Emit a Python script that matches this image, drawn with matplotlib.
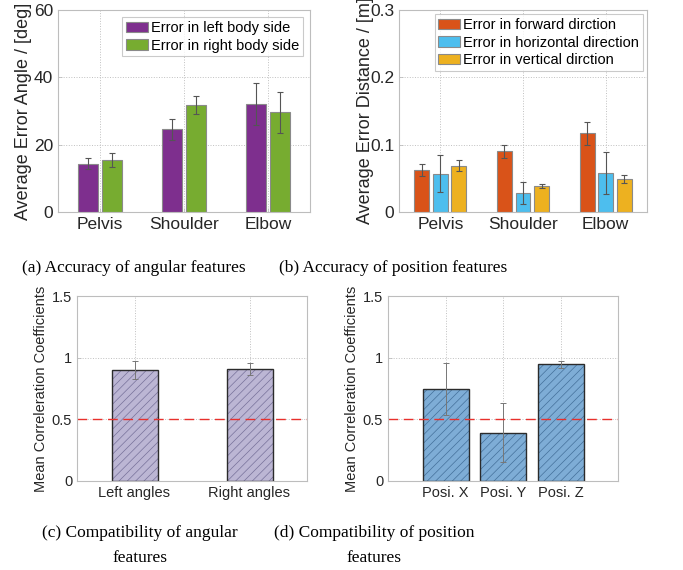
import numpy as np
import matplotlib
matplotlib.use("Agg")
import matplotlib.pyplot as plt

# ---- data ----
joints = ["Pelvis", "Shoulder", "Elbow"]
ang_left = [14.4, 24.6, 32.0]
ang_left_err = [1.6, 3.1, 6.3]
ang_right = [15.5, 31.8, 29.6]
ang_right_err = [2.1, 2.7, 6.1]

pos_fwd = [0.062, 0.090, 0.117]
pos_fwd_err = [0.009, 0.010, 0.017]
pos_hor = [0.057, 0.028, 0.058]
pos_hor_err = [0.027, 0.016, 0.031]
pos_ver = [0.069, 0.039, 0.049]
pos_ver_err = [0.008, 0.003, 0.006]

ang_corr_labels = ["Left angles", "Right angles"]
ang_corr = [0.90, 0.906]
ang_corr_err = [0.07, 0.05]

pos_corr_labels = ["Posi. X", "Posi. Y", "Posi. Z"]
pos_corr = [0.745, 0.391, 0.947]
pos_corr_err = [0.21, 0.24, 0.027]

W, H = 683, 570
fig = plt.figure(figsize=(W / 100, H / 100), dpi=100)
plt.rcParams["font.family"] = ["Liberation Sans", "DejaVu Sans"]
plt.rcParams["hatch.linewidth"] = 0.5


def ax_px(l, t, r, b):
    return fig.add_axes([l / W, 1 - b / H, (r - l) / W, (b - t) / H])


def matlab_style(ax, fs):
    for s in ax.spines.values():
        s.set_color("#bdbdbd")
        s.set_linewidth(0.8)
    ax.tick_params(direction="in", length=3, width=0.6, color="#bdbdbd",
                   labelsize=fs, labelcolor="#262626")
    ax.grid(True, linestyle=":", color="#c0c0c0", linewidth=0.7)
    ax.set_axisbelow(True)


err_kw = dict(ecolor="#555555", elinewidth=0.8, capsize=2, capthick=0.8)

# (a) angular errors
ax = ax_px(58, 10, 310, 212)
x = np.arange(1, 4)
ax.bar(x - 0.145, ang_left, 0.24, yerr=ang_left_err, color="#7E2F8E",
       edgecolor="#8a8a8a", linewidth=0.8, error_kw=err_kw, label="Error in left body side")
ax.bar(x + 0.145, ang_right, 0.24, yerr=ang_right_err, color="#77AC30",
       edgecolor="#8a8a8a", linewidth=0.8, error_kw=err_kw, label="Error in right body side")
ax.set_xlim(0.5, 3.5)
ax.set_ylim(0, 60)
ax.set_yticks([0, 20, 40, 60])
ax.set_xticks(x)
ax.set_xticklabels(joints)
matlab_style(ax, 12.5)
ax.set_ylabel("Average Error Angle / [deg]", fontsize=13, color="#262626", labelpad=1)
leg = ax.legend(loc="upper right", fontsize=10.5, frameon=True, fancybox=False,
                edgecolor="#bdbdbd", borderaxespad=0.5, handlelength=1.5,
                handletextpad=0.2, borderpad=0.25, labelspacing=0.25)
leg.get_frame().set_linewidth(0.8)

# (b) position errors
ax = ax_px(399, 10, 647, 212)
ax.bar(x - 0.225, pos_fwd, 0.18, yerr=pos_fwd_err, color="#D95319",
       edgecolor="#8a8a8a", linewidth=0.8, error_kw=err_kw, label="Error in forward dirction")
ax.bar(x, pos_hor, 0.18, yerr=pos_hor_err, color="#4DBEEE",
       edgecolor="#8a8a8a", linewidth=0.8, error_kw=err_kw, label="Error in horizontal direction")
ax.bar(x + 0.225, pos_ver, 0.18, yerr=pos_ver_err, color="#EDB120",
       edgecolor="#8a8a8a", linewidth=0.8, error_kw=err_kw, label="Error in vertical dirction")
ax.set_xlim(0.5, 3.5)
ax.set_ylim(0, 0.3)
ax.set_yticks([0, 0.1, 0.2, 0.3])
ax.set_yticklabels(["0", "0.1", "0.2", "0.3"])
ax.set_xticks(x)
ax.set_xticklabels(joints)
matlab_style(ax, 12.5)
ax.set_ylabel("Average Error Distance / [m]", fontsize=13, color="#262626", labelpad=-3)
leg = ax.legend(loc="upper right", fontsize=10.5, frameon=True, fancybox=False,
                edgecolor="#bdbdbd", borderaxespad=0.3, handlelength=1.5,
                handletextpad=0.2, borderpad=0.25, labelspacing=0.25)
leg.get_frame().set_linewidth(0.8)


def corr_panel(ax, labels, vals, errs, width, fill, hatch_col):
    xs = np.arange(1, len(vals) + 1)
    ax.bar(xs, vals, width, color=fill, edgecolor=hatch_col, linewidth=0, hatch="////")
    ax.bar(xs, vals, width, fill=False, edgecolor="#2b2b2b", linewidth=1.0)
    ax.errorbar(xs, vals, yerr=errs, fmt="none", ecolor="#777777", elinewidth=0.7,
                capsize=2, capthick=0.7)
    ax.axhline(0.5, color="#e8302c", linestyle=(0, (7, 4)), linewidth=1.0)
    ax.set_ylim(0, 1.5)
    ax.set_yticks([0, 0.5, 1, 1.5])
    ax.set_yticklabels(["0", "0.5", "1", "1.5"])
    ax.set_xticks(xs)
    ax.set_xticklabels(labels)
    matlab_style(ax, 10.5)
    ax.set_ylabel("Mean Correleration Coefficients", fontsize=10.5, color="#262626", labelpad=3)


# (c) angular compatibility
ax = ax_px(77, 296, 307, 481)
corr_panel(ax, ang_corr_labels, ang_corr, ang_corr_err, 0.4, "#bcb6d4", "#77719a")
ax.set_xlim(0.5, 2.5)

# (d) position compatibility
ax = ax_px(388, 296, 618, 481)
corr_panel(ax, pos_corr_labels, pos_corr, pos_corr_err, 0.8, "#7eadd6", "#44709a")
ax.set_xlim(0, 4)

# captions
cap = dict(family=["Liberation Serif", "DejaVu Serif"], fontsize=12.5, ha="center",
           va="center", color="black")
fig.text(134 / W, 1 - 268 / H, "(a) Accuracy of angular features", **cap)
fig.text(393 / W, 1 - 268 / H, "(b) Accuracy of position features", **cap)
fig.text(140 / W, 1 - 533 / H, "(c) Compatibility of angular", **cap)
fig.text(140 / W, 1 - 558 / H, "features", **cap)
fig.text(374 / W, 1 - 533 / H, "(d) Compatibility of position", **cap)
fig.text(374 / W, 1 - 558 / H, "features", **cap)

fig.savefig("out.png", dpi=100)
